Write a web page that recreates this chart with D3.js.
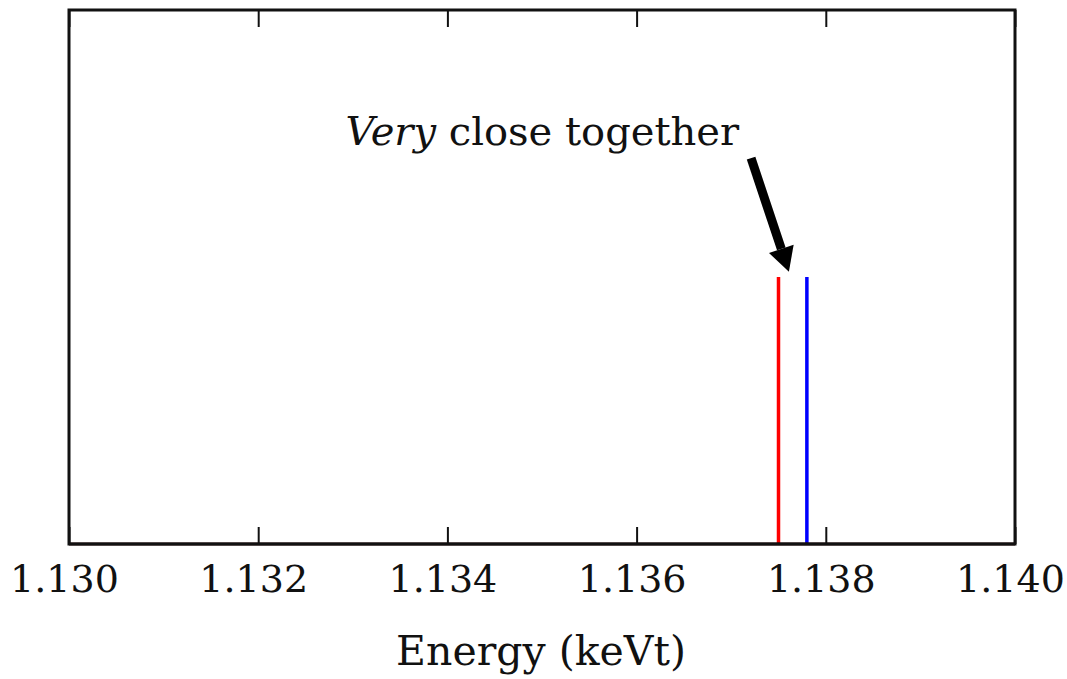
<!DOCTYPE html>
<html>
<head>
<meta charset="utf-8">
<script src="https://cdn.jsdelivr.net/npm/d3@7"></script>
<style>
  body { margin: 0; background: #fff; }
  text { font-family: "DejaVu Serif", serif; }
</style>
</head>
<body>
<div id="caja"></div>
<script>
// lineas de energia (keV) y su altura
var energias = [1.1375, 1.1378];
var alturas = [1, 1];
var colores = ["red", "blue"];
var ticks = [1.130, 1.132, 1.134, 1.136, 1.138, 1.140];

// anotacion: cola y punta de flecha en coordenadas de datos
var notaTexto = [1.13721, 1.445];
var notaPunta = [1.13761, 1.02];

var w = 1067, h = 679;
var m = { left: 69, right: 1015, top: 10, bottom: 544 };

var svg = d3.select('#caja')
  .append('svg')
  .attr('width', w)
  .attr('height', h)
  .style('background', 'white');

var x = d3.scaleLinear().domain([1.130, 1.140]).range([m.left, m.right]);
var y = d3.scaleLinear().domain([0, 2]).range([m.bottom, m.top]);

// lineas verticales
svg.append('g')
  .selectAll('line')
  .data(energias)
  .enter()
  .append('line')
  .attr('x1', function(d) { return x(d); })
  .attr('x2', function(d) { return x(d); })
  .attr('y1', y(0))
  .attr('y2', function(d, i) { return y(alturas[i]); })
  .style('stroke', function(d, i) { return colores[i]; })
  .style('stroke-width', 3.5);

// linea base (serie en cero)
svg.append('line')
  .attr('x1', x(1.130)).attr('x2', x(1.140))
  .attr('y1', y(0)).attr('y2', y(0))
  .style('stroke', '#2a0606')
  .style('stroke-width', 3);

// ticks hacia adentro, abajo y arriba
var ejeAbajo = d3.axisBottom(x).tickValues(ticks)
  .tickSizeInner(-17).tickSizeOuter(0)
  .tickFormat(d3.format('.3f')).tickPadding(21);
var gAbajo = svg.append('g')
  .attr('transform', 'translate(0,' + m.bottom + ')')
  .call(ejeAbajo);
gAbajo.attr('font-family', null);
gAbajo.select('.domain').remove();
gAbajo.selectAll('.tick line').style('stroke', '#111').style('stroke-width', 2);
gAbajo.selectAll('text')
  .attr('dx', -5)
  .style('font-size', '38px')
  .style('fill', '#111');

var ejeArriba = d3.axisTop(x).tickValues(ticks)
  .tickSizeInner(-17).tickSizeOuter(0).tickFormat('');
var gArriba = svg.append('g')
  .attr('transform', 'translate(0,' + m.top + ')')
  .call(ejeArriba);
gArriba.select('.domain').remove();
gArriba.selectAll('.tick line').style('stroke', '#111').style('stroke-width', 2);

// marco
svg.append('rect')
  .attr('x', m.left).attr('y', m.top)
  .attr('width', m.right - m.left).attr('height', m.bottom - m.top)
  .style('fill', 'none')
  .style('stroke', '#111')
  .style('stroke-width', 3);

// titulo del eje x
svg.append('text')
  .attr('x', 541)
  .attr('y', 665)
  .attr('text-anchor', 'middle')
  .style('font-size', '41px')
  .style('fill', '#111')
  .text('Energy (keVt)');

// anotacion
var x0 = x(notaTexto[0]), y0 = y(notaTexto[1]);
var x1 = x(notaPunta[0]), y1 = y(notaPunta[1]);

var nota = svg.append('text')
  .attr('x', x0 - 12)
  .attr('y', 145)
  .attr('text-anchor', 'end')
  .style('font-size', '40px')
  .style('fill', '#111');
nota.append('tspan').style('font-style', 'italic').text('Very');
nota.append('tspan').text(' close together');

// flecha
var ang = Math.atan2(y1 - y0, x1 - x0);
var largoCabeza = 24, anchoCabeza = 13;
var bx = x1 - largoCabeza * Math.cos(ang), by = y1 - largoCabeza * Math.sin(ang);
var px = -Math.sin(ang), py = Math.cos(ang);

svg.append('line')
  .attr('x1', x0).attr('y1', y0)
  .attr('x2', bx).attr('y2', by)
  .style('stroke', '#000')
  .style('stroke-width', 9);

svg.append('path')
  .attr('d', 'M' + x1 + ',' + y1 +
    'L' + (bx + px * anchoCabeza) + ',' + (by + py * anchoCabeza) +
    'L' + (bx - px * anchoCabeza) + ',' + (by - py * anchoCabeza) + 'Z')
  .style('fill', '#000');
</script>
</body>
</html>
